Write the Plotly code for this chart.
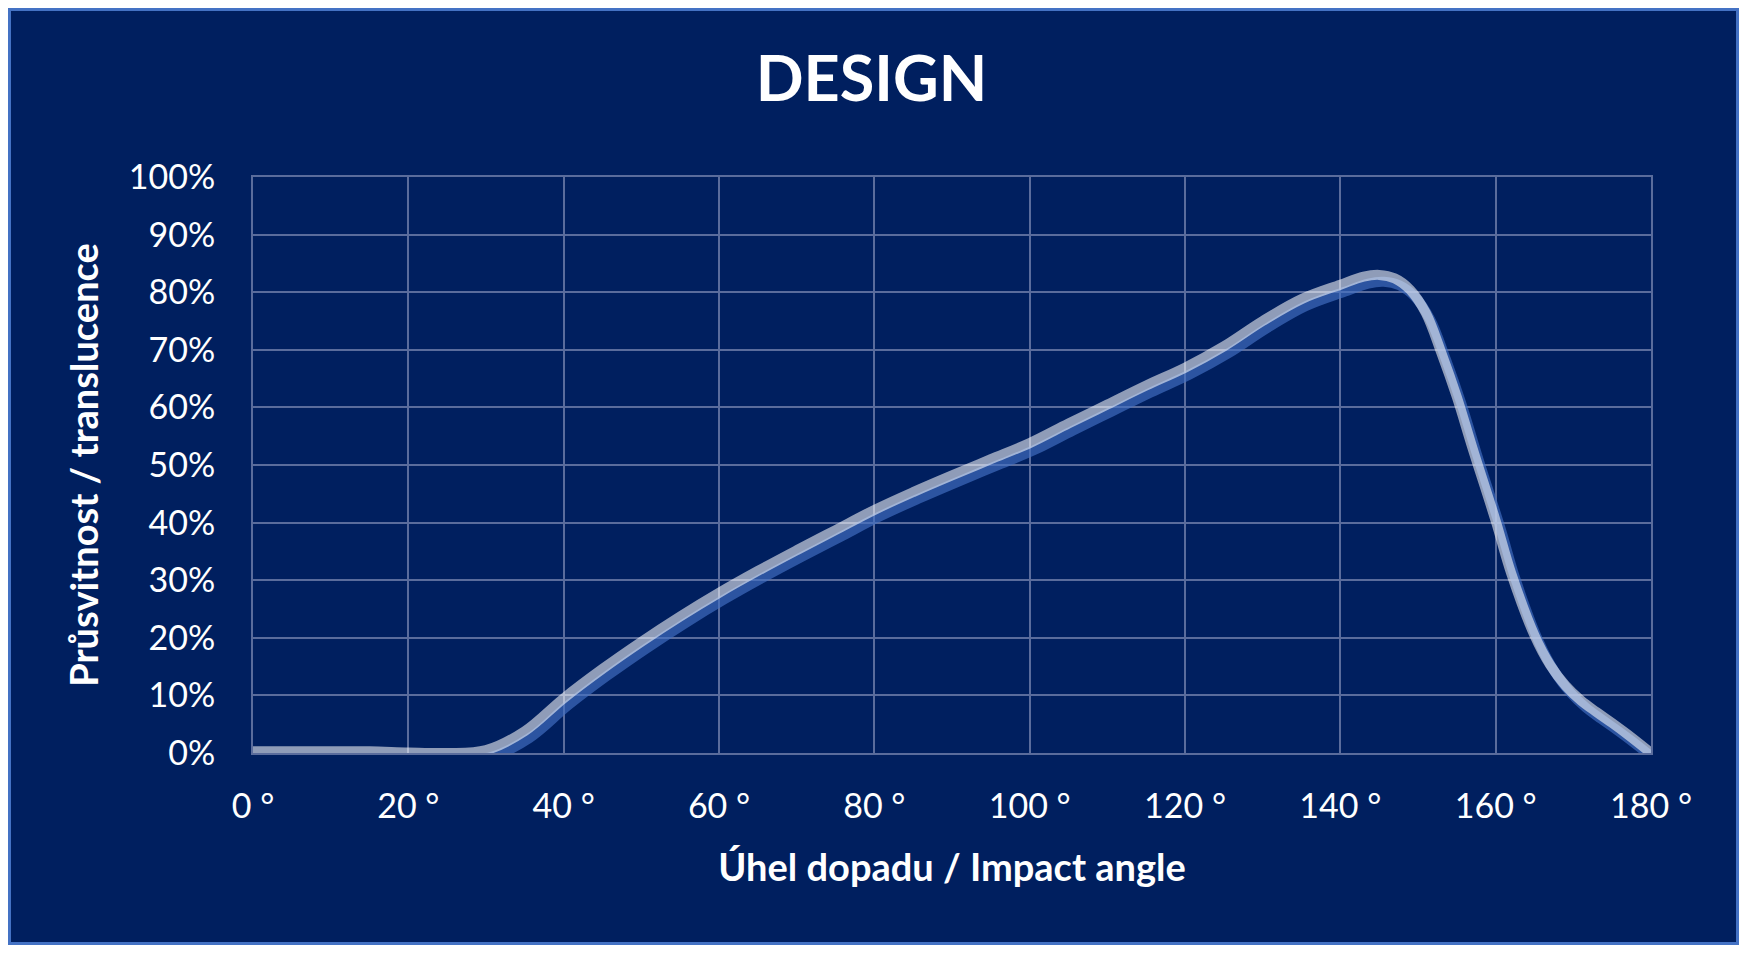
import plotly.graph_objects as go

# Impact angle in degrees and translucence in percent
angle_deg = [0, 5, 10, 15, 20, 25, 30, 35, 40, 45, 50, 55, 60, 65, 70, 75, 80, 85, 90, 95,
             100, 105, 110, 115, 120, 125, 130, 135, 140, 143, 145, 147, 149, 151, 153, 155,
             157, 160, 162, 165, 167, 169, 171, 173, 175, 177, 180]
translucence_pct = [0.3, 0.3, 0.3, 0.3, 0.1, 0.0, 0.5, 3.8, 9.5, 14.6, 19.3, 23.7, 27.8, 31.6,
                    35.2, 38.7, 42.2, 45.3, 48.2, 51.0, 53.8, 57.2, 60.5, 63.8, 66.9, 70.6, 75.0,
                    78.8, 81.3, 82.7, 83.0, 82.4, 80.4, 76.4, 69.5, 61.8, 53.0, 40.3, 31.2, 20.4,
                    15.3, 11.7, 9.1, 7.1, 5.2, 3.2, 0.0]

# Axis ticks and their labels
x_ticks = [0, 20, 40, 60, 80, 100, 120, 140, 160, 180]
x_tick_labels = ["0 °", "20 °", "40 °", "60 °", "80 °", "100 °", "120 °", "140 °", "160 °", "180 °"]
y_ticks = [0, 10, 20, 30, 40, 50, 60, 70, 80, 90, 100]
y_tick_labels = ["0%", "10%", "20%", "30%", "40%", "50%", "60%", "70%", "80%", "90%", "100%"]

title_text = "DESIGN"
x_title = "Úhel dopadu / Impact angle"
y_title = "Průsvitnost / translucence"

# Figure geometry (pixels); the page body adds an 8px margin around the figure
W, H = 1731, 937
M_L, M_R, M_T, M_B = 245, 88, 169, 192
BG = "#001F5F"
GRID = "#5A6C9C"
FONT = "Lato"

fig = go.Figure()

# Empty trace so the visible base axes (grid, ticks) get drawn
fig.add_trace(go.Scatter(x=[None], y=[None], mode="lines", hoverinfo="skip", showlegend=False))
# Shadow line: same data on a hidden overlay axis pair, nudged down and right
fig.add_trace(go.Scatter(
    x=angle_deg, y=translucence_pct, xaxis="x2", yaxis="y2",
    mode="lines", line=dict(color="rgba(68,114,196,0.65)", width=10, shape="spline", smoothing=1.0),
    hoverinfo="skip", showlegend=False,
))
# Main line on a second hidden overlay with the same range as the visible axes
fig.add_trace(go.Scatter(
    x=angle_deg, y=translucence_pct, xaxis="x3", yaxis="y3",
    mode="lines", line=dict(color="rgba(255,255,255,0.56)", width=10, shape="spline", smoothing=1.0),
    showlegend=False,
))

tick_font = dict(family=FONT, size=34, color="white")
label_font = dict(family=FONT, size=38, color="white")

fig.update_layout(
    width=W, height=H,
    margin=dict(l=M_L, r=M_R, t=M_T, b=M_B, autoexpand=False),
    paper_bgcolor=BG, plot_bgcolor=BG,
    font=dict(family=FONT, color="white"),
    title=dict(text=f"<b>{title_text}</b>", x=863.5 / W, xref="container", xanchor="center",
               y=1 - 71 / H, yref="container", yanchor="middle",
               font=dict(family=FONT, size=63, color="white")),
    xaxis=dict(range=[0, 180], tickmode="array", tickvals=x_ticks, ticktext=x_tick_labels,
               showgrid=True, gridcolor=GRID, gridwidth=2, zeroline=False,
               showline=True, linecolor=GRID, linewidth=2, mirror=True,
               ticks="", ticklabelstandoff=22, tickfont=tick_font,
               title=dict(text=f"<b>{x_title}</b>", font=label_font, standoff=31)),
    yaxis=dict(range=[0, 100], tickmode="array", tickvals=y_ticks, ticktext=y_tick_labels,
               showgrid=True, gridcolor=GRID, gridwidth=2, zeroline=False,
               showline=True, linecolor=GRID, linewidth=2, mirror=True,
               ticks="", ticklabelstandoff=29, tickfont=tick_font,
               title=dict(text=f"<b>{y_title}</b>", font=label_font, standoff=18)),
    xaxis2=dict(overlaying="x", range=[-0.6, 179.4], visible=False),
    yaxis2=dict(overlaying="y", range=[1.2, 101.2], visible=False),
    xaxis3=dict(overlaying="x", range=[0, 180], visible=False),
    yaxis3=dict(overlaying="y", range=[0, 100], visible=False),
)

# Blue frame around the whole chart, placed in paper units from the margins
pw, ph = W - M_L - M_R, H - M_T - M_B
fig.add_shape(type="rect", xref="paper", yref="paper",
              x0=(1.5 - M_L) / pw, x1=(W - 1.5 - M_L) / pw,
              y0=(1.5 - M_B) / ph, y1=(H - 1.5 - M_B) / ph,
              line=dict(color="#4472C4", width=3), layer="above")

fig.write_html("out.html")
